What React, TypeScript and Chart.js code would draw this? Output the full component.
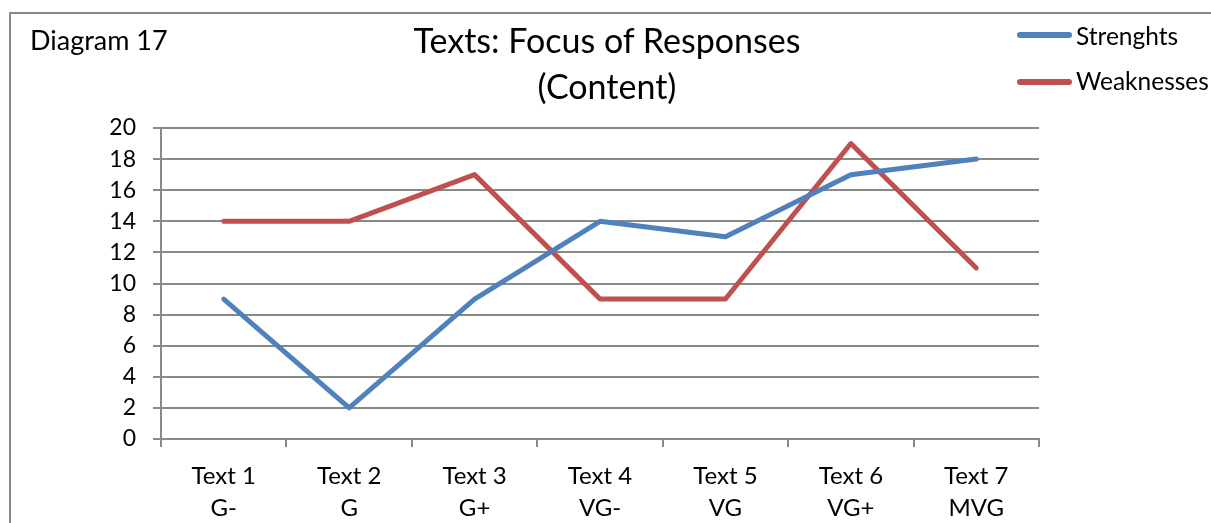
import React, { useEffect, useRef } from "react";
import { Chart, registerables } from "chart.js";

Chart.register(...registerables);

const categories: string[][] = [
  ["Text 1", "G-"],
  ["Text 2", "G"],
  ["Text 3", "G+"],
  ["Text 4", "VG-"],
  ["Text 5", "VG"],
  ["Text 6", "VG+"],
  ["Text 7", "MVG"],
];
const strengths: number[] = [9, 2, 9, 14, 13, 17, 18];
const weaknesses: number[] = [14, 14, 17, 9, 9, 19, 11];
const seriesNames: string[] = ["Strenghts", "Weaknesses"];
const seriesColors: string[] = ["#4F81BD", "#C0504D"];
const titleLines: string[] = ["Texts: Focus of Responses", "(Content)"];
const diagramLabel = "Diagram 17";

const FONT = "Lato, 'Open Sans', sans-serif";
const GRID = "#898989";

export default function App() {
  const ref = useRef<HTMLCanvasElement | null>(null);

  useEffect(() => {
    if (!ref.current) return;
    const chart = new Chart(ref.current, {
      type: "line",
      data: {
        labels: categories,
        datasets: [
          {
            label: seriesNames[0],
            data: strengths,
            borderColor: seriesColors[0],
            backgroundColor: seriesColors[0],
            borderWidth: 5,
            pointRadius: 0,
            tension: 0,
            borderCapStyle: "round",
            borderJoinStyle: "round",
          },
          {
            label: seriesNames[1],
            data: weaknesses,
            borderColor: seriesColors[1],
            backgroundColor: seriesColors[1],
            borderWidth: 5,
            pointRadius: 0,
            tension: 0,
            borderCapStyle: "round",
            borderJoinStyle: "round",
          },
        ],
      },
      options: {
        animation: false,
        responsive: false,
        maintainAspectRatio: false,
        layout: { padding: { left: 0, right: 172, top: 128, bottom: 0 } },
        plugins: {
          legend: { display: false },
          title: { display: false },
          tooltip: { enabled: false },
        },
        scales: {
          x: {
            offset: true,
            grid: {
              offset: true,
              drawOnChartArea: false,
              drawTicks: true,
              tickLength: 8,
              color: GRID,
              lineWidth: 2,
            },
            border: { display: true, color: GRID, width: 2 },
            ticks: {
              maxRotation: 0,
              minRotation: 0,
              autoSkip: false,
              padding: 13,
              color: "#000",
              font: { family: FONT, size: 24, lineHeight: 1.33 },
            },
            afterFit: (s: any) => {
              s.height = 84;
            },
          },
          y: {
            min: 0,
            max: 20,
            ticks: {
              stepSize: 2,
              padding: 17,
              color: "#000",
              font: { family: FONT, size: 23 },
            },
            grid: {
              color: GRID,
              lineWidth: 2,
              drawTicks: true,
              tickLength: 8,
            },
            border: { display: true, color: GRID, width: 2 },
            afterFit: (s: any) => {
              s.width = 161;
            },
          },
        },
      },
    });
    return () => chart.destroy();
  }, []);

  const text = (
    content: string,
    left: number,
    capCenter: number,
    size: number,
    center = false
  ) => (
    <div
      style={{
        position: "absolute",
        left,
        top: capCenter - 0.629 * size,
        fontFamily: FONT,
        fontSize: size,
        lineHeight: 1.2,
        whiteSpace: "nowrap",
        color: "#000",
        transform: center ? "translateX(-50%)" : undefined,
      }}
    >
      {content}
    </div>
  );

  return (
    <div
      style={{
        position: "fixed",
        left: 0,
        top: 0,
        width: 1211,
        height: 523,
        overflow: "hidden",
        background: "#fff",
      }}
    >
      <div
        style={{
          position: "absolute",
          left: 9,
          top: 12,
          width: 1240,
          height: 560,
          border: `2px solid ${GRID}`,
        }}
      />
      <canvas
        ref={ref}
        width={1211}
        height={523}
        style={{ position: "absolute", left: 0, top: 0, width: 1211, height: 523 }}
      />
      {text(diagramLabel, 30, 41, 27)}
      {text(titleLines[0], 607, 41.5, 34, true)}
      {text(titleLines[1], 607, 87, 34, true)}
      {seriesNames.map((n, i) => (
        <React.Fragment key={n}>
          <div
            style={{
              position: "absolute",
              left: 1017,
              top: (i === 0 ? 35 : 82) - 3,
              width: 55,
              height: 6,
              borderRadius: 3,
              background: seriesColors[i],
            }}
          />
          {text(n, 1076, i === 0 ? 36 : 81, 24.5)}
        </React.Fragment>
      ))}
    </div>
  );
}
